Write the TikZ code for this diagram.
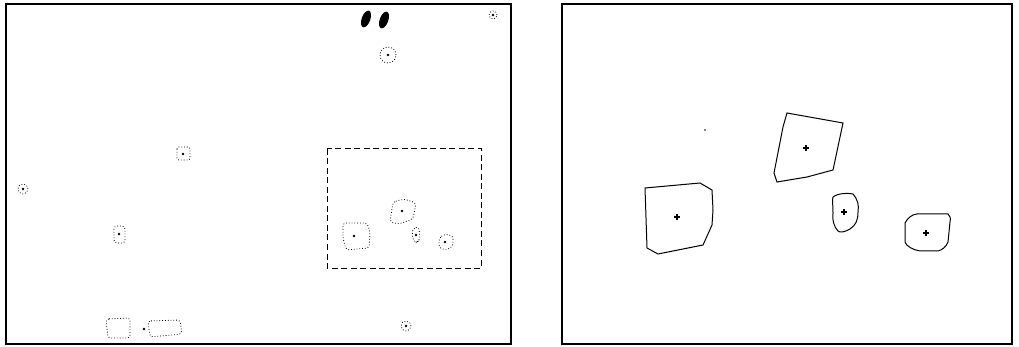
\documentclass[tikz,border=0pt]{standalone}
\begin{document}
\begin{tikzpicture}[x=1pt,y=-1pt,
  frame/.style={line width=2.6pt,black},
  dotshape/.style={dotted,line width=0.8pt,black},
  solidshape/.style={line width=1pt,black},
  dotc/.style={fill=black,circle,inner sep=0pt,minimum size=2.8pt},
  plusmark/.style={line width=1.4pt,black}]
\useasboundingbox (0,0) rectangle (1019,347);
% frames
\draw[frame] (6,4) rectangle (511,344);
\draw[frame] (562,4) rectangle (1012,344);
% left panel
\fill[black,rotate around={-20:(366,19)}] (366,19) ellipse (4.3pt and 8.8pt);
\fill[black,rotate around={-20:(384,20)}] (384,20) ellipse (4.3pt and 8.8pt);
\draw[dotshape] (493,15) circle (4pt); \node[dotc] at (493,15) {};
\draw[dotshape] (388,55) circle (8pt); \node[dotc] at (388,55) {};
\draw[dotshape,rounded corners=2pt] (177,147) rectangle (190,160); \node[dotc] at (183,154) {};
\draw[dotshape] (23,189) circle (5pt); \node[dotc] at (23,189) {};
\draw[dotshape,rounded corners=3pt] (114,226) rectangle (125,243); \node[dotc] at (119,234) {};
\draw[line width=1pt,dash pattern=on 6pt off 3.5pt] (327,149) rectangle (481,268);
\draw[dotshape,rounded corners=3pt] (343,223) -- (367,223) -- (370,232) -- (369,248) -- (346,250) -- (343,238) -- cycle;
\node[dotc] at (354,236) {};
\draw[dotshape,rounded corners=3pt] (393,202) -- (404,199) -- (416,203) -- (413,219) -- (399,224) -- (390,222) -- cycle;
\node[dotc] at (402,211) {};
\draw[dotshape,rounded corners=3pt] (413,228) -- (419,227) -- (420,240) -- (415,243) -- (412,236) -- cycle;
\node[dotc] at (416,235) {};
\draw[dotshape,rounded corners=3pt] (439,238) -- (445,234) -- (453,236) -- (453,246) -- (447,250) -- (439,248) -- cycle;
\node[dotc] at (445,242) {};
\draw[dotshape,rounded corners=3pt] (106,319) -- (130,318) -- (130,338) -- (108,338) -- cycle;
\draw[dotshape,rounded corners=3pt] (148,321) -- (180,320) -- (182,334) -- (150,337) -- cycle;
\node[dotc] at (144,329) {};
\draw[dotshape] (406,326) circle (5pt); \node[dotc] at (406,326) {};
% right panel
\node[dotc,minimum size=1.8pt] at (705,130) {};
\draw[solidshape] (645,188) -- (700,183) -- (712,190) -- (713,210) -- (712,225) -- (703,245) -- (658,254) -- (647,248) -- cycle;
\draw[solidshape] (787,113) -- (843,123) -- (833,170) -- (807,177) -- (777,182) -- (774,173) -- (783,127) -- cycle;
\draw[solidshape] (833,197) .. controls (838,193) and (848,193) .. (853,194)
  .. controls (858,200) and (859,205) .. (858,212)
  .. controls (858,220) and (856,225) .. (850,229)
  .. controls (845,232) and (840,233) .. (838,231)
  .. controls (834,227) and (832,220) .. (833,213)
  .. controls (833,205) and (832,200) .. (833,197) -- cycle;
\draw[solidshape] (905,223) .. controls (907,219) and (912,214) .. (917,214)
  -- (948,214) .. controls (950,216) and (951,218) .. (950,222)
  -- (948,242) .. controls (946,247) and (942,250) .. (938,251)
  -- (920,251) .. controls (913,250) and (906,246) .. (905,242) -- cycle;
\foreach \p in {(677,217),(806,148),(844,212),(926,233)} {
  \draw[plusmark] \p ++(-3.2,0) -- ++(6.4,0);
  \draw[plusmark] \p ++(0,-3.2) -- ++(0,6.4);
}
\end{tikzpicture}
\end{document}
